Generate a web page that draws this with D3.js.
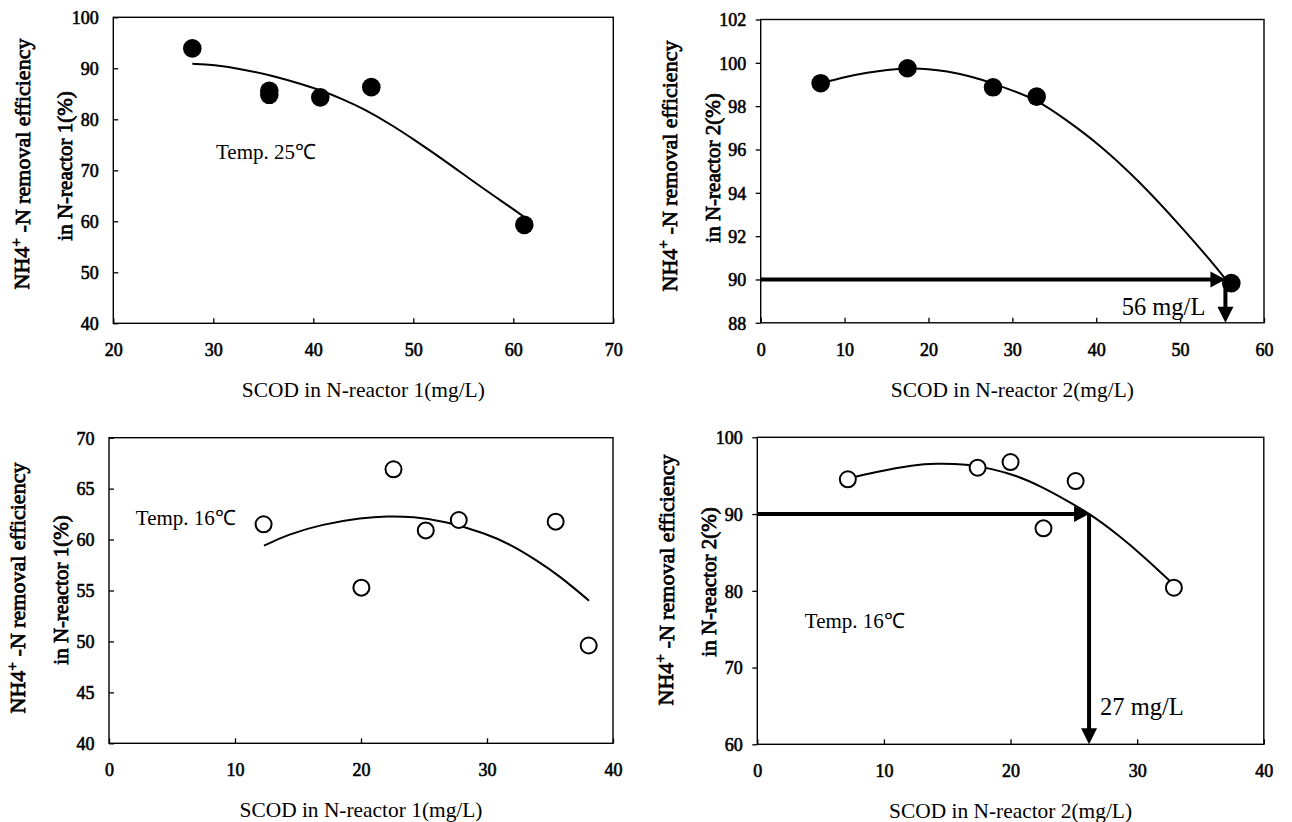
<!DOCTYPE html>
<html><head><meta charset="utf-8">
<script src="https://cdn.jsdelivr.net/npm/d3@7"></script>
<style>body{margin:0;background:#fff}</style>
</head><body>
<svg id="c" width="1292" height="822" xmlns="http://www.w3.org/2000/svg"></svg>
<script>
// ---------- DATA ----------
// Panel 1: 25 °C, N-reactor 1
const p1XTicks = [20, 30, 40, 50, 60, 70];
const p1YTicks = [40, 50, 60, 70, 80, 90, 100];
const p1PointsX = [27.9, 35.6, 35.6, 40.7, 45.8, 61.1];
const p1PointsY = [93.9, 85.6, 84.8, 84.3, 86.3, 59.3];
const p1CurveX = [27.9, 30, 33, 36, 39, 41, 43, 45, 48, 50, 53, 56, 58.5, 61];
const p1CurveY = [90.9, 90.7, 89.8, 88.5, 86.8, 85.5, 83.9, 82.1, 78.7, 76.1, 72.1, 67.8, 64.4, 61.0];

// Panel 2: 25 °C, N-reactor 2
const p2XTicks = [0, 10, 20, 30, 40, 50, 60];
const p2YTicks = [88, 90, 92, 94, 96, 98, 100, 102];
const p2PointsX = [7.15, 17.5, 27.7, 32.9, 56.1];
const p2PointsY = [99.06, 99.75, 98.87, 98.44, 89.83];
const p2CurveX = [7.2, 10, 12.8, 15, 17.7, 20, 22.1, 25, 27.7, 30, 32.9, 36.3, 40.2, 45.1, 50, 54.9, 55.5];
const p2CurveY = [99.05, 99.35, 99.55, 99.68, 99.75, 99.72, 99.62, 99.38, 99.05, 98.72, 98.3, 97.4, 96.29, 94.55, 92.5, 90.3, 89.95];
const p2Arrow = [55.4, 90];

// Panel 3: 16 °C, N-reactor 1
const p3XTicks = [0, 10, 20, 30, 40];
const p3YTicks = [40, 45, 50, 55, 60, 65, 70];
const p3PointsX = [12.27, 20.03, 22.58, 25.14, 27.76, 35.45, 38.07];
const p3PointsY = [61.5, 55.28, 66.9, 60.9, 61.92, 61.76, 49.6];
const p3CurveX = [12.3, 14.2, 16.9, 20.1, 22.1, 24.1, 26.7, 29.9, 31.9, 33.9, 35.8, 38.1];
const p3CurveY = [59.4, 60.5, 61.5, 62.15, 62.3, 62.25, 61.8, 60.6, 59.5, 58.0, 56.4, 54.0];

// Panel 4: 16 °C, N-reactor 2
const p4XTicks = [0, 10, 20, 30, 40];
const p4YTicks = [60, 70, 80, 90, 100];
const p4PointsX = [7.15, 17.4, 20.0, 22.6, 25.14, 32.9];
const p4PointsY = [94.53, 96.04, 96.78, 88.14, 94.3, 80.4];
const p4CurveX = [7.15, 9.4, 12.4, 14.0, 16.6, 18.5, 20.5, 22.4, 24.4, 26.2, 28.5, 30.5, 32.9];
const p4CurveY = [94.6, 95.5, 96.4, 96.6, 96.5, 95.9, 95.0, 93.6, 91.8, 90.1, 87.3, 84.5, 80.8];
const p4Arrow = [26.2, 90];

// Texts
const xTitles = ["SCOD in N-reactor 1(mg/L)", "SCOD in N-reactor 2(mg/L)", "SCOD in N-reactor 1(mg/L)", "SCOD in N-reactor 2(mg/L)"];
const yTitle2 = ["in N-reactor 1(%)", "in N-reactor 2(%)", "in N-reactor 1(%)", "in N-reactor 2(%)"];
const tempLabels = ["Temp. 25\u2103", null, "Temp. 16\u2103", "Temp. 16\u2103"];
const arrowLabels = [null, "56 mg/L", null, "27 mg/L"];

// ---------- LAYOUT ----------
const FONT = '"Liberation Serif","Times New Roman",Times,serif';
const panels = [
  {L:113.3, R:613.3, T:17.3, B:323.3, xd:[20,70], yd:[40,100], xt:p1XTicks, yt:p1YTicks,
   px:p1PointsX, py:p1PointsY, cx:p1CurveX, cy:p1CurveY, filled:true, yIn:true, titleCY:164,
   temp:[216, 158.5]},
  {L:760.7, R:1264, T:19.5, B:322.8, xd:[0,60], yd:[88,102], xt:p2XTicks, yt:p2YTicks,
   px:p2PointsX, py:p2PointsY, cx:p2CurveX, cy:p2CurveY, filled:true, yIn:false, titleCY:166,
   arrow:p2Arrow, lab:[1121.7, 315]},
  {L:109, R:613, T:437.7, B:743.3, xd:[0,40], yd:[40,70], xt:p3XTicks, yt:p3YTicks,
   px:p3PointsX, py:p3PointsY, cx:p3CurveX, cy:p3CurveY, filled:false, yIn:true, titleCY:588,
   temp:[135.8, 524.5]},
  {L:757.3, R:1263.8, T:437.3, B:744.3, xd:[0,40], yd:[60,100], xt:p4XTicks, yt:p4YTicks,
   px:p4PointsX, py:p4PointsY, cx:p4CurveX, cy:p4CurveY, filled:false, yIn:false, titleCY:580,
   temp:[804.8, 628], arrow:p4Arrow, lab:[1100, 715]}
];

const svg = d3.select("#c");
// simulated bold (regular serif face + thin outline)
function bold(sel, w) { return sel.attr("font-weight", "normal").attr("stroke", "#000").attr("stroke-width", w).attr("paint-order", "stroke"); }

panels.forEach((p, i) => {
  const x = d3.scaleLinear().domain(p.xd).range([p.L, p.R]);
  const y = d3.scaleLinear().domain(p.yd).range([p.B, p.T]);
  const g = svg.append("g");

  // axes
  const xa = g.append("g").attr("transform", `translate(0,${p.B})`)
    .call(d3.axisBottom(x).tickValues(p.xt).tickSize(-5).tickSizeOuter(0).tickFormat(d3.format("d")));
  xa.select(".domain").remove();
  xa.selectAll(".tick line").attr("stroke", "#000").attr("stroke-width", 1.3);
  bold(xa.selectAll(".tick text").attr("y", 33).attr("dy", null)
    .attr("font-family", FONT).attr("font-size", 18).attr("fill", "#000"), 0.6);

  const ya = g.append("g").attr("transform", `translate(${p.L},0)`)
    .call(d3.axisLeft(y).tickValues(p.yt).tickSize(p.yIn ? -5 : 5).tickSizeOuter(0).tickFormat(d3.format("d")));
  ya.select(".domain").remove();
  ya.selectAll(".tick line").attr("stroke", "#000").attr("stroke-width", 1.3);
  bold(ya.selectAll(".tick text").attr("x", -14.5).attr("dy", "0.35em")
    .attr("font-family", FONT).attr("font-size", 18).attr("fill", "#000"), 0.6);

  // frame
  g.append("rect").attr("x", p.L).attr("y", p.T).attr("width", p.R - p.L).attr("height", p.B - p.T)
    .attr("fill", "none").attr("stroke", "#000").attr("stroke-width", 1.4);

  // curve
  const pts = p.cx.map((v, k) => [v, p.cy[k]]);
  g.append("path").datum(pts)
    .attr("d", d3.line().x(d => x(d[0])).y(d => y(d[1])).curve(d3.curveBasis))
    .attr("fill", "none").attr("stroke", "#000").attr("stroke-width", 2);

  // arrows
  if (p.arrow) {
    const ax = x(p.arrow[0]), ay = y(p.arrow[1]);
    g.append("line").attr("x1", x(p.xd[0])).attr("x2", ax - 12).attr("y1", ay).attr("y2", ay)
      .attr("stroke", "#000").attr("stroke-width", 4);
    g.append("path").attr("d", `M${ax},${ay}L${ax-15},${ay-8}L${ax-15},${ay+8}Z`).attr("fill", "#000");
    g.append("line").attr("x1", ax).attr("x2", ax).attr("y1", ay).attr("y2", p.B - 13)
      .attr("stroke", "#000").attr("stroke-width", 4);
    g.append("path").attr("d", `M${ax},${p.B}L${ax-8},${p.B-16}L${ax+8},${p.B-16}Z`).attr("fill", "#000");
  }

  // points
  const pd = p.px.map((v, k) => [v, p.py[k]]);
  g.selectAll("circle.pt").data(pd).join("circle").attr("class", "pt")
    .attr("cx", d => x(d[0])).attr("cy", d => y(d[1]))
    .attr("r", p.filled ? 9.3 : 8)
    .attr("fill", p.filled ? "#000" : "#fff")
    .attr("stroke", "#000").attr("stroke-width", p.filled ? 0 : 2);

  // annotations
  if (tempLabels[i]) {
    g.append("text").attr("x", p.temp[0]).attr("y", p.temp[1]).text(tempLabels[i])
      .attr("font-family", FONT).attr("font-size", 21).attr("fill", "#000");
  }
  if (arrowLabels[i]) {
    g.append("text").attr("x", p.lab[0]).attr("y", p.lab[1]).text(arrowLabels[i])
      .attr("font-family", FONT).attr("font-size", 24.5).attr("fill", "#000");
  }

  // x title
  g.append("text").attr("x", (p.L + p.R) / 2).attr("y", p.B + 74).attr("text-anchor", "middle")
    .text(xTitles[i]).attr("font-family", FONT).attr("font-size", 21.4).attr("fill", "#000");

  // y title (two lines, rotated)
  const t1 = bold(g.append("text").attr("transform", `translate(${p.L - 84},${p.titleCY}) rotate(-90)`)
    .attr("text-anchor", "middle").attr("font-family", FONT).attr("font-size", 22)
    .attr("fill", "#000"), 0.75);
  t1.append("tspan").text("NH4");
  t1.append("tspan").attr("dy", "-0.55em").attr("font-size", "0.7em").text("+");
  t1.append("tspan").attr("dy", "0.4em").text(" -N removal efficiency");
  bold(g.append("text").attr("transform", `translate(${p.L - 41},${p.titleCY + 2}) rotate(-90)`)
    .attr("text-anchor", "middle").attr("font-family", FONT).attr("font-size", 21)
    .attr("fill", "#000").text(yTitle2[i]), 0.75);
});
</script>
</body></html>
